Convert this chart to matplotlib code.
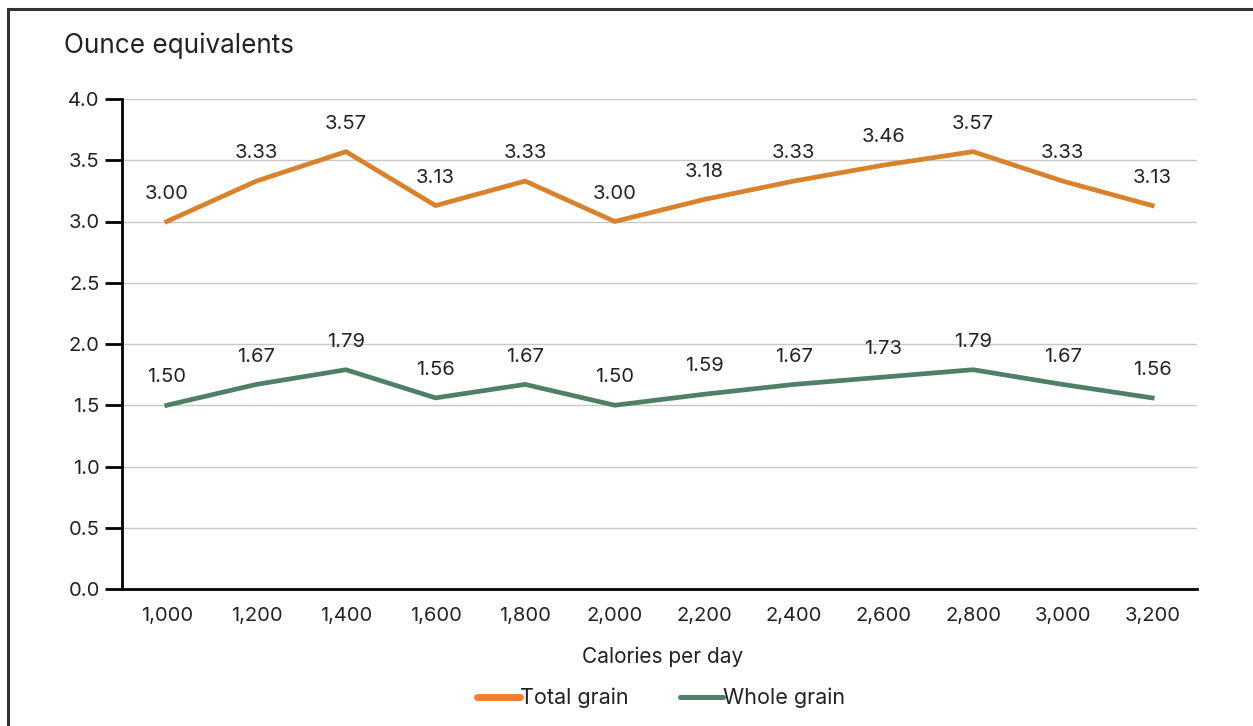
import numpy as np
import matplotlib.pyplot as plt
from matplotlib.patches import Rectangle
from matplotlib.lines import Line2D

plt.rcParams['font.family'] = ['Inter', 'DejaVu Sans']

# Daily grain recommendations by calorie level
calories = ['1,000', '1,200', '1,400', '1,600', '1,800', '2,000',
            '2,200', '2,400', '2,600', '2,800', '3,000', '3,200']
total_grain = [3.00, 3.33, 3.57, 3.13, 3.33, 3.00, 3.18, 3.33, 3.46, 3.57, 3.33, 3.13]
whole_grain = [1.50, 1.67, 1.79, 1.56, 1.67, 1.50, 1.59, 1.67, 1.73, 1.79, 1.67, 1.56]
y_ticks = [0.0, 0.5, 1.0, 1.5, 2.0, 2.5, 3.0, 3.5, 4.0]

orange = '#D9822B'
orange_key = '#F08030'
green = '#4E8068'
text_col = '#222222'

fig = plt.figure(figsize=(12.53, 7.26), dpi=100)
ax = fig.add_axes([122 / 1253, 1 - 589 / 726, 1075 / 1253, 490 / 726])

# outer frame (runs off the right and bottom edges)
fig.patches.append(Rectangle((8 / 1253, -0.1), 1.2, 1 - 9 / 726 + 0.1,
                             transform=fig.transFigure, fill=False,
                             edgecolor='#333333', linewidth=2.2))

x = np.arange(len(calories))
ax.plot(x, total_grain, color=orange, linewidth=3.4, solid_joinstyle='miter')
ax.plot(x, whole_grain, color=green, linewidth=3.4, solid_joinstyle='miter')

for xi, v in zip(x, total_grain):
    ax.annotate(f'{v:.2f}', (xi, v), xytext=(0, 20), textcoords='offset points',
                ha='center', va='center', fontsize=14.5, color=text_col)
for xi, v in zip(x, whole_grain):
    ax.annotate(f'{v:.2f}', (xi, v), xytext=(0, 20), textcoords='offset points',
                ha='center', va='center', fontsize=14.5, color=text_col)

ax.set_xlim(-0.5, len(calories) - 0.5)
ax.set_ylim(0, 4.0)
ax.set_xticks(x)
ax.set_xticklabels(calories)
ax.set_yticks(y_ticks)
ax.set_yticklabels([f'{t:.1f}' for t in y_ticks])
ax.tick_params(axis='x', length=0, pad=13, labelsize=14.5, labelcolor=text_col)
ax.tick_params(axis='y', length=12, width=2, pad=4, labelsize=14.5, labelcolor=text_col)

ax.grid(axis='y', color='#c8c8c8', linewidth=1)
ax.set_axisbelow(True)
for s in ['top', 'right']:
    ax.spines[s].set_visible(False)
for s in ['left', 'bottom']:
    ax.spines[s].set_linewidth(2)
    ax.spines[s].set_color('black')

fig.text(64 / 1253, 1 - 46 / 726, 'Ounce equivalents', fontsize=18.8,
         color=text_col, va='center', ha='left')
fig.text(663 / 1253, 1 - 657 / 726, 'Calories per day', fontsize=15,
         color=text_col, va='center', ha='center')

handles = [Line2D([], [], color=orange_key, linewidth=5, solid_capstyle='round'),
           Line2D([], [], color=green, linewidth=3.6, solid_capstyle='round')]
fig.legend(handles, ['Total grain', 'Whole grain'], loc='center',
           bbox_to_anchor=(661 / 1253, 1 - 698 / 726), ncol=2, frameon=False,
           fontsize=15.5, handlelength=2.0, handletextpad=0.0, columnspacing=2.4,
           labelcolor=text_col)

fig.savefig('out.png', dpi=100)
